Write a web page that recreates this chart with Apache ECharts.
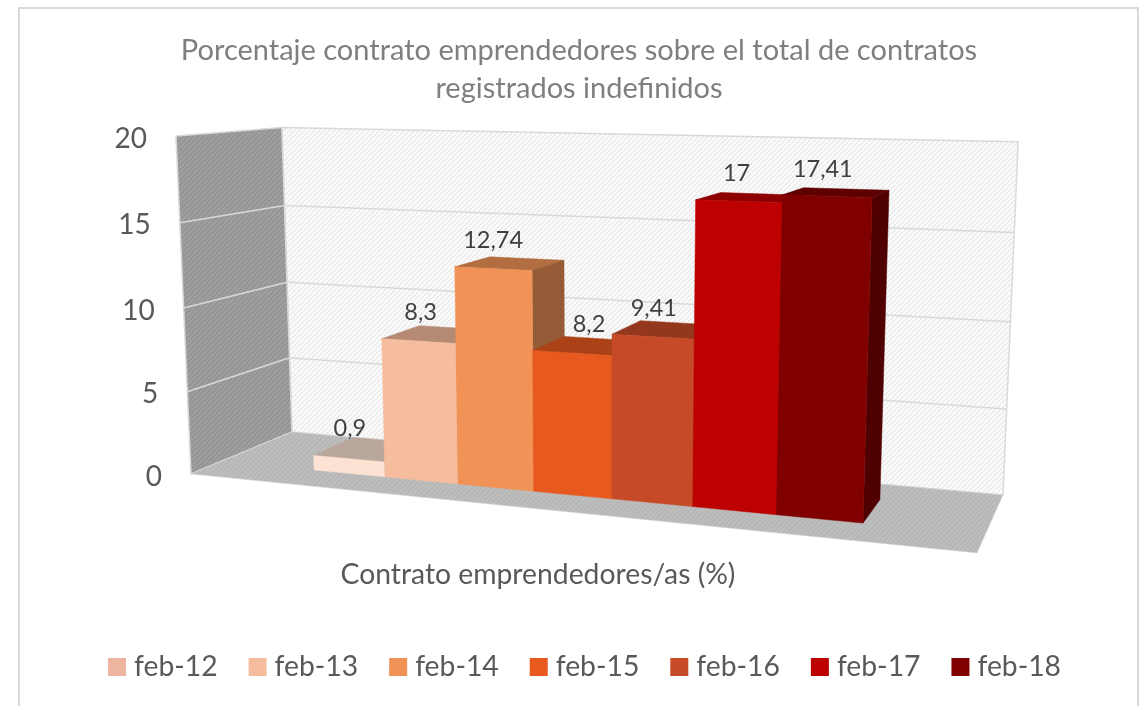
<!DOCTYPE html>
<html>
<head>
<meta charset="utf-8">
<title>Porcentaje contrato emprendedores</title>
<script src="https://cdn.jsdelivr.net/npm/echarts@6/dist/echarts.min.js"></script>
<style>
  html, body { margin: 0; padding: 0; background: #ffffff; }
  #chart { width: 1147px; height: 706px; }
</style>
</head>
<body>
<div id="chart"></div>
<script>
var categoryName = 'Contrato emprendedores/as (%)'
var months = ['feb-12', 'feb-13', 'feb-14', 'feb-15', 'feb-16', 'feb-17', 'feb-18']
var values = [0.9, 8.3, 12.74, 8.2, 9.41, 17, 17.41]
var valueLabels = ['0,9', '8,3', '12,74', '8,2', '9,41', '17', '17,41']
var yTicks = [0, 5, 10, 15, 20]

var barColors = ['#FBE2D3', '#F5BC9E', '#F19357', '#E7591F', '#C64A27', '#BD0000', '#800000']
var legendColors = ['#EDB4A0', '#F5BC9E', '#F19357', '#E7591F', '#C64A27', '#BD0000', '#800000']
var labelNudge = [[1, 5], [2, 2], [0, -1], [17, 3], [1, 2], [-2, -3], [-4, -3]]

var FONT = 'Lato, "Open Sans", sans-serif'

// perspective box: x 0..1 left to right, v 0..1 bottom to top, z 0..1 front to back
function project(x, v, z) {
  var w = 1 - 0.1551 * x + 0.1112 * z - 0.035 * v
  return [
    (634.5 * x + 133.47 * z + 191 - 21.16 * v) / w,
    (-6.77 * x + 6.04 * z + 474 - 342.76 * v) / w
  ]
}

var barStart = 0.139
var barWidth = 0.1031
var barFront = 0.286
var barBack = 0.71

function hatch(bg, line, lineWidth) {
  var c = document.createElement('canvas')
  c.width = 5
  c.height = 5
  var ctx = c.getContext('2d')
  ctx.fillStyle = bg
  ctx.fillRect(0, 0, 5, 5)
  ctx.strokeStyle = line
  ctx.lineWidth = lineWidth
  ctx.beginPath()
  ctx.moveTo(0, 5); ctx.lineTo(5, 0)
  ctx.moveTo(-1, 1); ctx.lineTo(1, -1)
  ctx.moveTo(4, 6); ctx.lineTo(6, 4)
  ctx.stroke()
  return { image: c, repeat: 'repeat' }
}

function poly(points, fill, stroke, lineWidth) {
  return {
    type: 'polygon',
    shape: { points: points },
    style: { fill: fill, stroke: stroke, lineWidth: lineWidth }
  }
}

function line(a, b, color, lineWidth) {
  return {
    type: 'line',
    shape: { x1: a[0], y1: a[1], x2: b[0], y2: b[1] },
    style: { stroke: color, lineWidth: lineWidth }
  }
}

function shade(color, amount) {
  return echarts.color.lerp(amount, [color, '#000000'])
}

// value -> 0..1 height, through the y axis scale
function height(params, api, val) {
  var sys = params.coordSys
  return (sys.y + sys.height - api.coord([0, val])[1]) / sys.height
}

var wallBack = hatch('#fdfdfd', '#e9e9e9', 1.5)
var wallLeft = hatch('#a0a0a0', '#929292', 1.5)
var wallFloor = hatch('#bebebe', '#b5b5b5', 1.5)

function renderWalls(params, api) {
  var edge = '#d9d9d9'
  var children = [
    poly([project(0, 0, 1), project(1, 0, 1), project(1, 1, 1), project(0, 1, 1)], wallBack, edge, 1.5),
    poly([project(0, 0, 0), project(0, 0, 1), project(0, 1, 1), project(0, 1, 0)], wallLeft, edge, 1.5),
    poly([project(0, 0, 0), project(1, 0, 0), project(1, 0, 1), project(0, 0, 1)], wallFloor, edge, 0.5)
  ]
  yTicks.forEach(function(tick) {
    var v = height(params, api, tick)
    if (tick > 0 && tick < 20) {
      children.push(line(project(0, v, 0), project(0, v, 1), edge, 1.5))
      children.push(line(project(0, v, 1), project(1, v, 1), edge, 1.5))
    }
    var p = project(0, v, 0)
    children.push({
      type: 'text',
      style: {
        text: String(tick),
        x: p[0] - 29,
        y: p[1] + 2.5,
        align: 'right',
        verticalAlign: 'middle',
        fill: '#595959',
        fontFamily: FONT,
        fontSize: 28
      }
    })
  })
  return { type: 'group', children: children }
}

function renderBar(index) {
  return function(params, api) {
    var top = height(params, api, api.value(1))
    var x0 = barStart + index * barWidth
    var x1 = x0 + barWidth
    var color = barColors[index]
    var topColor = shade(color, 0.26)
    var sideColor = shade(color, 0.38)
    var labelFront = project((x0 + x1) / 2, top, barFront)
    var labelBack = project((x0 + x1) / 2, top, barBack)
    return {
      type: 'group',
      children: [
        poly([project(x0, top, barFront), project(x1, top, barFront), project(x1, top, barBack), project(x0, top, barBack)], topColor, topColor, 0.5),
        poly([project(x1, 0, barFront), project(x1, 0, barBack), project(x1, top, barBack), project(x1, top, barFront)], sideColor, sideColor, 0.5),
        poly([project(x0, 0, barFront), project(x1, 0, barFront), project(x1, top, barFront), project(x0, top, barFront)], color, color, 0.5),
        {
          type: 'text',
          z2: 100,
          style: {
            text: valueLabels[index],
            x: labelFront[0] + labelNudge[index][0],
            y: labelBack[1] - 17 + labelNudge[index][1],
            align: 'center',
            verticalAlign: 'middle',
            fill: '#404040',
            fontFamily: FONT,
            fontSize: 23.5
          }
        }
      ]
    }
  }
}

var series = [{
  type: 'custom',
  name: 'walls',
  silent: true,
  data: [[0, 0]],
  encode: { x: 0, y: 1 },
  renderItem: renderWalls
}]
months.forEach(function(month, i) {
  series.push({
    type: 'custom',
    name: month,
    itemStyle: { color: legendColors[i] },
    data: [[0, values[i]]],
    encode: { x: 0, y: 1 },
    renderItem: renderBar(i)
  })
})

var myChart = echarts.init(document.getElementById('chart'))
var option = {
  backgroundColor: '#ffffff',
  animation: false,
  title: {
    text: 'Porcentaje contrato emprendedores sobre el total de contratos\nregistrados indefinidos',
    left: 574,
    top: 27,
    textAlign: 'center',
    textStyle: {
      color: '#7f7f7f',
      fontFamily: FONT,
      fontWeight: 'normal',
      fontSize: 29,
      lineHeight: 38
    }
  },
  graphic: [{
    type: 'rect',
    shape: { x: 19, y: 8, width: 1119, height: 720 },
    style: { fill: 'none', stroke: '#d9d9d9', lineWidth: 2 },
    silent: true
  }],
  legend: {
    data: months,
    left: 103,
    top: 648,
    icon: 'rect',
    itemWidth: 18,
    itemHeight: 18,
    itemGap: 31,
    textStyle: { color: '#595959', fontFamily: FONT, fontSize: 28.3, padding: [0, 0, 0, 3] }
  },
  grid: { left: 163, top: 138, width: 750, height: 338 },
  xAxis: {
    type: 'category',
    data: [categoryName],
    axisLine: { show: false },
    axisTick: { show: false },
    axisLabel: { margin: 85, color: '#595959', fontFamily: FONT, fontSize: 28.3 }
  },
  yAxis: {
    type: 'value',
    min: 0,
    max: 20,
    interval: 5,
    show: false
  },
  series: series
}
myChart.setOption(option, true)
window.addEventListener('resize', function() {
  myChart.resize()
})
</script>
</body>
</html>
